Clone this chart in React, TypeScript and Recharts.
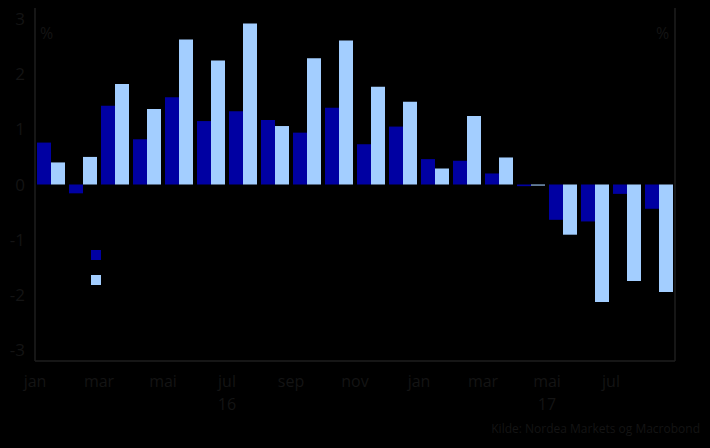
import React from "react";
import { BarChart, Bar, XAxis, YAxis } from "recharts";

const months = ["jan","feb","mar","apr","mai","jun","jul","aug","sep","okt","nov","des","jan","feb","mar","apr","mai","jun","jul","aug"];
const yearLabels = ["","","","","","","16","","","","","","","","","","17","","",""];
const seriesA = [0.76,-0.16,1.43,0.82,1.58,1.15,1.33,1.17,0.94,1.39,0.73,1.05,0.46,0.43,0.2,-0.03,-0.64,-0.67,-0.17,-0.44];
const seriesB = [0.4,0.5,1.82,1.37,2.63,2.25,2.92,1.06,2.29,2.61,1.77,1.5,0.29,1.24,0.49,-0.02,-0.91,-2.13,-1.75,-1.95];
const yTicks = [-3,-2,-1,0,1,2,3];
const seriesNames = ["Serie 1", "Serie 2"];

const data = months.map((m, i) => ({ m, year: yearLabels[i], a: seriesA[i], b: seriesB[i] }));

const TXT = "#141414";
const AX = "#1e1e1e";
const DARK = "#0000A2";
const LIGHT = "#A3CEFF";
const FONT = "'Open Sans', 'DejaVu Sans', sans-serif";

const XTick = (props: any) => {
  const { x, y, payload } = props;
  const idx = payload.index;
  const yr = yearLabels[idx];
  return (
    <g>
      <text x={x - 16} y={y + 18} textAnchor="middle" fill={TXT} fontSize={16} fontFamily={FONT}>{payload.value}</text>
      {yr ? <text x={x - 16} y={y + 41} textAnchor="middle" fill={TXT} fontSize={16} fontFamily={FONT}>{yr}</text> : null}
    </g>
  );
};

const LegendBox = () => (
  <div style={{ position: "absolute", left: 91, top: 249, fontFamily: FONT, fontSize: 14, color: "#000" }}>
    <div style={{ display: "flex", alignItems: "center", height: 12, marginBottom: 13 }}>
      <span style={{ width: 10, height: 10, background: DARK, display: "inline-block", marginRight: 8 }} />
      <span>{seriesNames[0]}</span>
    </div>
    <div style={{ display: "flex", alignItems: "center", height: 12 }}>
      <span style={{ width: 10, height: 10, background: LIGHT, display: "inline-block", marginRight: 8 }} />
      <span>{seriesNames[1]}</span>
    </div>
  </div>
);

export default function App() {
  return (
    <div style={{ position: "absolute", left: 0, top: 0, width: 710, height: 448, background: "#000", overflow: "hidden" }}>
      <BarChart width={710} height={448} data={data} margin={{ top: 8, right: 0, bottom: 86, left: 0 }} barSize={14} barGap={0}>
        <XAxis dataKey="m" xAxisId={0} interval={1} tickLine={false} axisLine={{ stroke: AX, strokeWidth: 1.5 }} tick={<XTick />} height={1} />
        <YAxis yAxisId="l" orientation="left" width={35} domain={[-3.2, 3.2]} ticks={yTicks} tickLine={false} tickSize={0} tickMargin={10}
          axisLine={{ stroke: AX, strokeWidth: 1.5 }} tick={{ fill: TXT, fontSize: 17, fontFamily: FONT }} />
        <YAxis yAxisId="r" orientation="right" width={35} domain={[-3.2, 3.2]} ticks={yTicks} tickLine={false} tickSize={0} tickMargin={12}
          axisLine={{ stroke: AX, strokeWidth: 1.5 }} tick={{ fill: TXT, fontSize: 17, fontFamily: FONT }} />
        <Bar dataKey="a" yAxisId="l" fill={DARK} isAnimationActive={false} />
        <Bar dataKey="b" yAxisId="l" fill={LIGHT} isAnimationActive={false} />
      </BarChart>
      <div style={{ position: "absolute", left: 40, top: 22, color: TXT, fontFamily: FONT, fontSize: 16 }}>%</div>
      <div style={{ position: "absolute", left: 656, top: 22, color: TXT, fontFamily: FONT, fontSize: 16 }}>%</div>
      <LegendBox />
      <div style={{ position: "absolute", right: 10, top: 420, color: TXT, fontFamily: FONT, fontSize: 12 }}>Kilde: Nordea Markets og Macrobond</div>
    </div>
  );
}
